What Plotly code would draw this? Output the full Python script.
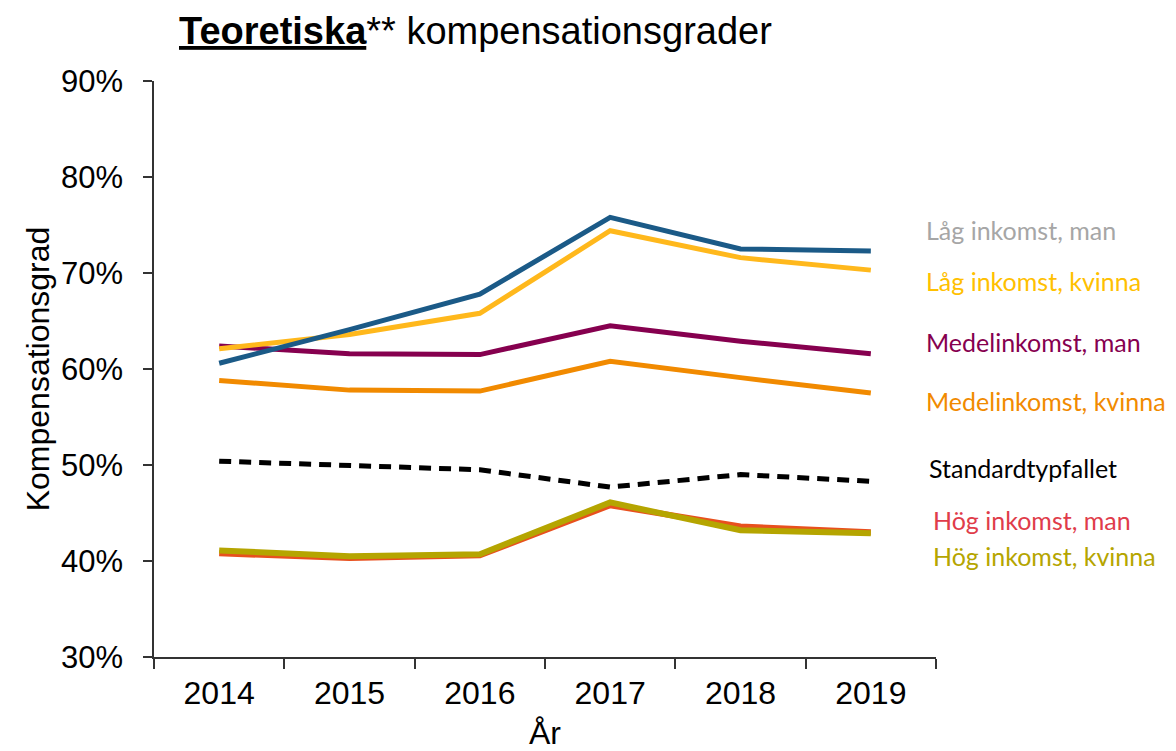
import plotly.graph_objects as go

years = ["2014", "2015", "2016", "2017", "2018", "2019"]

lag_man = [60.6, 64.1, 67.8, 75.8, 72.5, 72.3]
lag_kvinna = [62.1, 63.6, 65.8, 74.4, 71.6, 70.3]
medel_man = [62.4, 61.6, 61.5, 64.5, 62.9, 61.6]
medel_kvinna = [58.8, 57.8, 57.7, 60.8, 59.1, 57.5]
standard = [50.4, 49.9, 49.5, 47.7, 49.0, 48.3]
hog_man = [40.8, 40.3, 40.6, 45.8, 43.6, 43.0]
hog_kvinna = [41.1, 40.5, 40.7, 46.1, 43.2, 42.9]

series_names = ["Låg inkomst, man", "Låg inkomst, kvinna", "Medelinkomst, man",
                "Medelinkomst, kvinna", "Standardtypfallet", "Hög inkomst, man",
                "Hög inkomst, kvinna"]

y_ticks = [30, 40, 50, 60, 70, 80, 90]
y_tick_text = ["30%", "40%", "50%", "60%", "70%", "80%", "90%"]

fig = go.Figure()

def add_line(vals, name, color, width=5, dash="solid"):
    fig.add_trace(go.Scatter(x=years, y=vals, mode="lines", name=name,
                             line=dict(color=color, width=width, dash=dash),
                             showlegend=False))

add_line(medel_kvinna, series_names[3], "#f18a00")
add_line(medel_man, series_names[2], "#86004f")
add_line(lag_kvinna, series_names[1], "#ffb81c")
add_line(lag_man, series_names[0], "#1b5a87")
add_line(standard, series_names[4], "#000000", width=5, dash="12px,8px")
add_line(hog_man, series_names[5], "#e8501e", width=6)
add_line(hog_kvinna, series_names[6], "#b5a500", width=6)

# end labels (text beside the lines)
label_y = [74.5, 69.2, 62.8, 56.7, 49.7, 44.3, 40.5]
label_x = [0.985, 0.985, 0.985, 0.985, 0.988, 0.994, 0.994]
label_colors = ["#a6a6a6", "#ffc000", "#86004f", "#f18a00", "#000000", "#e03c4a", "#b5a500"]

PLOT_H = 576
MARGIN_T = 73

annotations = []
for name, ly, lx, c in zip(series_names, label_y, label_x, label_colors):
    annotations.append(dict(text=name, x=lx, y=ly, xref="paper", yref="y",
                            xanchor="left", yanchor="middle", showarrow=False,
                            font=dict(family="Lato", size=25, color=c)))

annotations.append(dict(text="<b><u>Teoretiska</u></b>** kompensationsgrader",
                        x=0.03, y=1 + MARGIN_T / PLOT_H, xref="paper", yref="paper",
                        xanchor="left", yanchor="top", showarrow=False,
                        font=dict(family="Liberation Sans, Arial", size=38, color="#000000")))

fig.update_layout(
    width=1168, height=743,
    margin=dict(l=146, r=240, t=MARGIN_T, b=94),
    paper_bgcolor="white", plot_bgcolor="white",
    font=dict(family="Liberation Sans, Arial", color="#000000"),
    annotations=annotations,
)

fig.update_xaxes(
    type="category", range=[-0.5, 5.5], automargin=False,
    showline=True, linecolor="#333333", linewidth=1.5,
    ticks="outside", tickson="boundaries", ticklen=10, tickwidth=1.5, tickcolor="#333333",
    tickfont=dict(size=32, family="Liberation Sans, Arial"),
    ticklabelstandoff=7,
    showgrid=False, zeroline=False,
    title=dict(text="År", font=dict(size=32, family="Liberation Sans, Arial"), standoff=13),
)
fig.update_yaxes(
    range=[30, 90], tickvals=y_ticks, ticktext=y_tick_text, automargin=False,
    showline=True, linecolor="#333333", linewidth=1.5,
    ticks="outside", ticklen=9, tickwidth=1.5, tickcolor="#333333",
    tickfont=dict(size=31, family="Liberation Sans, Arial"),
    ticklabelstandoff=14,
    showgrid=False, zeroline=False,
    title=dict(text="Kompensationsgrad", font=dict(size=32, family="Liberation Sans, Arial"), standoff=2),
)

fig.write_html("out.html")
